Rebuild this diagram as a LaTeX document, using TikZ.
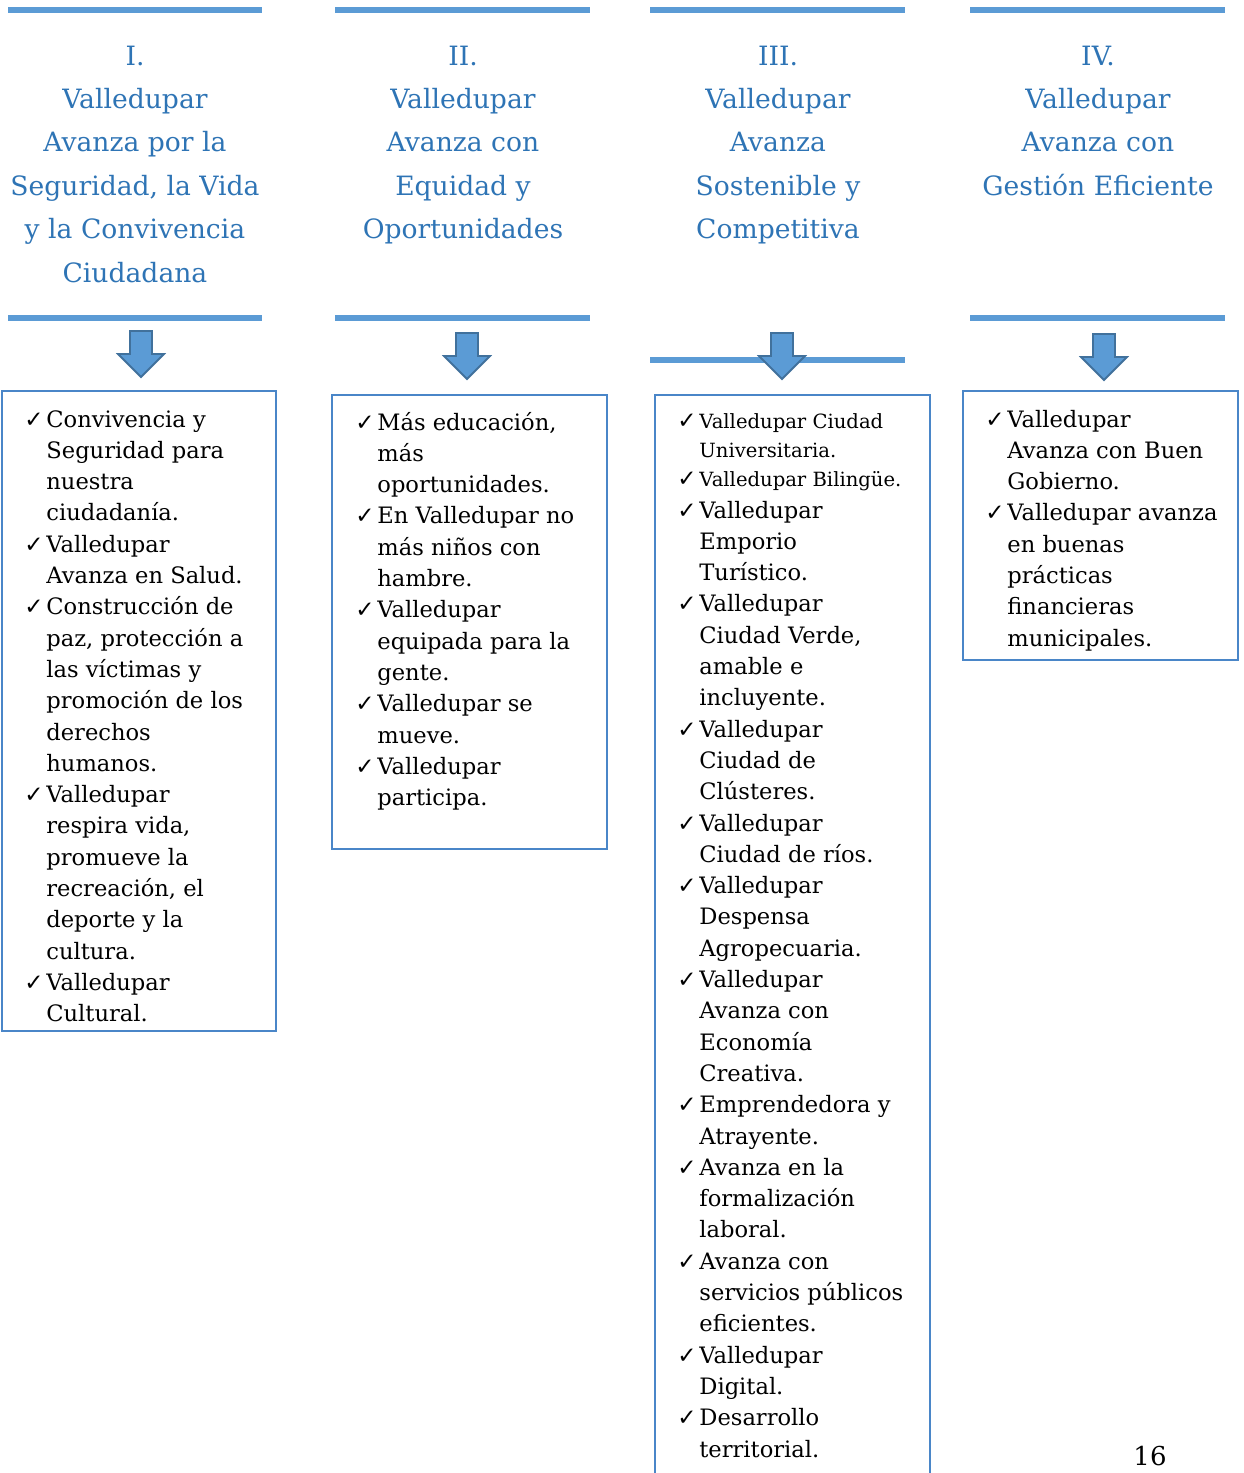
\documentclass[tikz,border=0pt]{standalone}
\usepackage{fontspec}
\setmainfont{DejaVu Serif}
\newfontfamily\chkfont{DejaVu Sans}
\usepackage{xcolor}
\definecolor{RuleBlue}{HTML}{5B9BD5}
\definecolor{HeadBlue}{HTML}{2E74B5}
\definecolor{ArrowEdge}{HTML}{41719C}
\definecolor{BoxBlue}{HTML}{4A86C8}
\newcommand{\Chk}{\makebox[11pt][l]{\chkfont\fontsize{11.5}{11.5}\selectfont ✓}}
\newcommand{\DownArr}[2]{%
  \draw[ArrowEdge,fill=RuleBlue,line width=0.9pt,line join=miter] (#1-11,#2) -- (#1+11,#2) -- (#1+11,#2+23) -- (#1+23,#2+23) -- (#1,#2+46) -- (#1-23,#2+23) -- (#1-11,#2+23) -- cycle;%
}

\begin{document}
\begin{tikzpicture}[x=0.5pt,y=-0.5pt,
  headtxt/.style={anchor=base,inner sep=0pt,text=HeadBlue,font=\fontsize{13.3}{21.7}\selectfont},
  listtxt/.style={anchor=base west,inner sep=0pt,font=\fontsize{11.3}{15.65}\selectfont},
  smalltxt/.style={anchor=base west,inner sep=0pt,font=\fontsize{9.8}{14.5}\selectfont},
  boxline/.style={BoxBlue,line width=1pt}]
\useasboundingbox (0,0) rectangle (1243,1473);
\foreach \a/\b/\y in {8/262/10,335/590/10,650/905/10,970/1225/10,8/262/318,335/590/318,650/905/360,970/1225/318} {
  \draw[RuleBlue,line width=3pt] (\a,\y) -- (\b,\y);
}
\node[headtxt] (h1) at (135,65) {\begin{tabular}[t]{@{}c@{}}I.\\Valledupar\\Avanza por la\\Seguridad, la Vida\\y la Convivencia\\Ciudadana\end{tabular}};
\node[headtxt] (h2) at (463,65) {\begin{tabular}[t]{@{}c@{}}II.\\Valledupar\\Avanza con\\Equidad y\\Oportunidades\end{tabular}};
\node[headtxt] (h3) at (778,65) {\begin{tabular}[t]{@{}c@{}}III.\\Valledupar\\Avanza\\Sostenible y\\Competitiva\end{tabular}};
\node[headtxt] (h4) at (1098,65) {\begin{tabular}[t]{@{}c@{}}IV.\\Valledupar\\Avanza con\\Gestión Eficiente\end{tabular}};
\DownArr{141}{331}
\DownArr{467}{333}
\DownArr{782}{333}
\DownArr{1104}{334}
\draw[boxline] (2,391) rectangle (276,1031);
\draw[boxline] (332,395) rectangle (607,849);
\draw[boxline] (655,1490) -- (655,395) -- (930,395) -- (930,1490);
\draw[boxline] (963,391) rectangle (1238,660);
\node[listtxt] (l1) at (24,427) {\begin{tabular}[t]{@{}l@{}l@{}}
\Chk & Convivencia y\\ & Seguridad para\\ & nuestra\\ & ciudadanía.\\
\Chk & Valledupar\\ & Avanza en Salud.\\
\Chk & Construcción de\\ & paz, protección a\\ & las víctimas y\\ & promoción de los\\ & derechos\\ & humanos.\\
\Chk & Valledupar\\ & respira vida,\\ & promueve la\\ & recreación, el\\ & deporte y la\\ & cultura.\\
\Chk & Valledupar\\ & Cultural.
\end{tabular}};
\node[listtxt] (l2) at (355,430) {\begin{tabular}[t]{@{}l@{}l@{}}
\Chk & Más educación,\\ & más\\ & oportunidades.\\
\Chk & En Valledupar no\\ & más niños con\\ & hambre.\\
\Chk & Valledupar\\ & equipada para la\\ & gente.\\
\Chk & Valledupar se\\ & mueve.\\
\Chk & Valledupar\\ & participa.
\end{tabular}};
\node[smalltxt] (l3a) at (677,428) {\begin{tabular}[t]{@{}l@{}l@{}}
\Chk & Valledupar Ciudad\\ & Universitaria.\\
\Chk & Valledupar Bilingüe.
\end{tabular}};
\node[listtxt] (l3b) at (677,518) {\begin{tabular}[t]{@{}l@{}l@{}}
\Chk & Valledupar\\ & Emporio\\ & Turístico.\\
\Chk & Valledupar\\ & Ciudad Verde,\\ & amable e\\ & incluyente.\\
\Chk & Valledupar\\ & Ciudad de\\ & Clústeres.\\
\Chk & Valledupar\\ & Ciudad de ríos.\\
\Chk & Valledupar\\ & Despensa\\ & Agropecuaria.\\
\Chk & Valledupar\\ & Avanza con\\ & Economía\\ & Creativa.\\
\Chk & Emprendedora y\\ & Atrayente.\\
\Chk & Avanza en la\\ & formalización\\ & laboral.\\
\Chk & Avanza con\\ & servicios públicos\\ & eficientes.\\
\Chk & Valledupar\\ & Digital.\\
\Chk & Desarrollo\\ & territorial.
\end{tabular}};
\node[listtxt] (l4) at (985,427) {\begin{tabular}[t]{@{}l@{}l@{}}
\Chk & Valledupar\\ & Avanza con Buen\\ & Gobierno.\\
\Chk & Valledupar avanza\\ & en buenas\\ & prácticas\\ & financieras\\ & municipales.
\end{tabular}};
\node[anchor=base,inner sep=0pt,font=\fontsize{13}{15}\selectfont] (pg) at (1150,1465) {16};
\end{tikzpicture}
\end{document}
